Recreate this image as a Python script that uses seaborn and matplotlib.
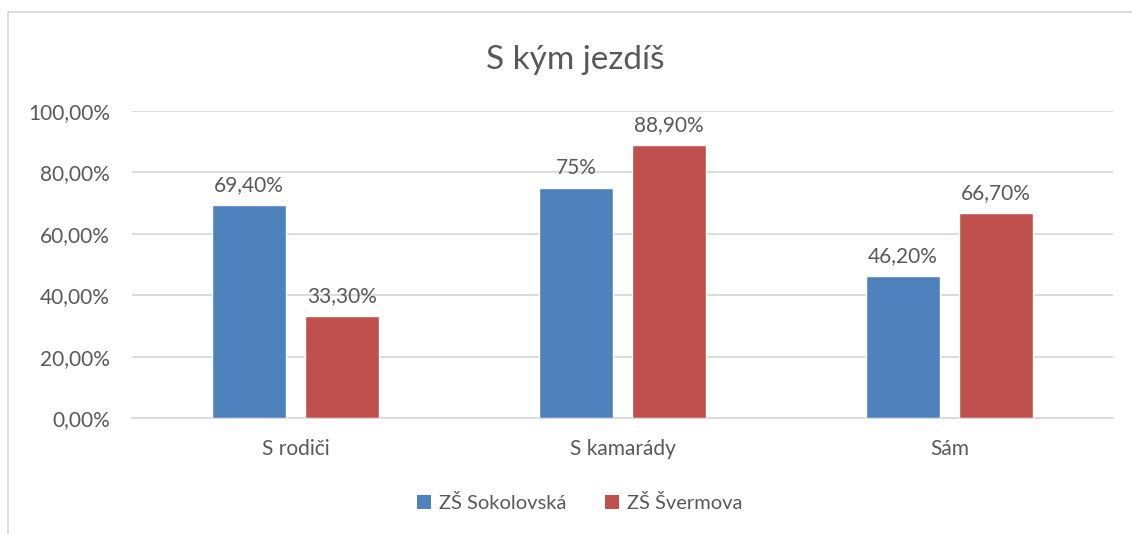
import matplotlib
matplotlib.use("Agg")
import matplotlib.pyplot as plt
import seaborn as sns
import pandas as pd
from matplotlib.patches import Rectangle, Patch

categories = ["S rodiči", "S kamarády", "Sám"]
series_names = ["ZŠ Sokolovská", "ZŠ Švermova"]
sokolovska = [69.4, 75.0, 46.2]
svermova = [33.3, 88.9, 66.7]
labels_sokolovska = ["69,40%", "75%", "46,20%"]
labels_svermova = ["33,30%", "88,90%", "66,70%"]
y_ticks = [0, 20, 40, 60, 80, 100]
y_tick_labels = ["0,00%", "20,00%", "40,00%", "60,00%", "80,00%", "100,00%"]
colors = ["#4f81bd", "#c0504d"]
title = "S kým jezdíš"

df = pd.DataFrame({
    "cat": categories * 2,
    "series": [series_names[0]] * 3 + [series_names[1]] * 3,
    "value": sokolovska + svermova,
})

sns.set_theme(style="white")
plt.rcParams["font.family"] = ["Lato", "DejaVu Sans"]
text_color = "#595959"
grid_color = "#d9d9d9"

fig = plt.figure(figsize=(11.32, 5.34), dpi=100)
ax = fig.add_axes([132 / 1132, 1 - 418 / 534, 981 / 1132, 307 / 534])

sns.barplot(data=df, x="cat", y="value", hue="series", palette=colors,
            order=categories, hue_order=series_names, width=0.569, gap=0.214,
            saturation=1, ax=ax, legend=False, zorder=3)

ax.set_xlim(-0.5, 2.5)
ax.set_ylim(0, 100)
ax.set_yticks(y_ticks)
ax.set_yticklabels(y_tick_labels)
ax.yaxis.grid(True, color=grid_color, linewidth=1.3, zorder=0)
ax.set_axisbelow(True)
for s in ["top", "right", "left"]:
    ax.spines[s].set_visible(False)
ax.spines["bottom"].set_color(grid_color)
ax.spines["bottom"].set_linewidth(1.3)
ax.tick_params(axis="both", length=0, labelsize=15, colors=text_color)
ax.tick_params(axis="y", pad=16)
ax.tick_params(axis="x", pad=15)
ax.set_xlabel("")
ax.set_ylabel("")

for cont, labs in zip(ax.containers, [labels_sokolovska, labels_svermova]):
    ax.bar_label(cont, labels=labs, padding=7, fontsize=15, color=text_color)

fig.text(575 / 1132, 1 - 60 / 534, title, ha="center", va="center",
         fontsize=24, color=text_color)

handles = [Patch(facecolor=c, edgecolor="none") for c in colors]
fig.legend(handles, series_names, loc="center", bbox_to_anchor=(580 / 1132, 1 - 503 / 534),
           ncol=2, frameon=False, fontsize=14.5, labelcolor=text_color,
           handlelength=0.7, handleheight=0.7, handletextpad=0.4, columnspacing=1.9)

fig.patches.append(Rectangle((8 / 1132, -0.1), 1.2, 1 - 12 / 534 + 0.1,
                             transform=fig.transFigure, fill=False,
                             edgecolor=grid_color, linewidth=1.3, zorder=0))

fig.savefig("out.png", dpi=100)
